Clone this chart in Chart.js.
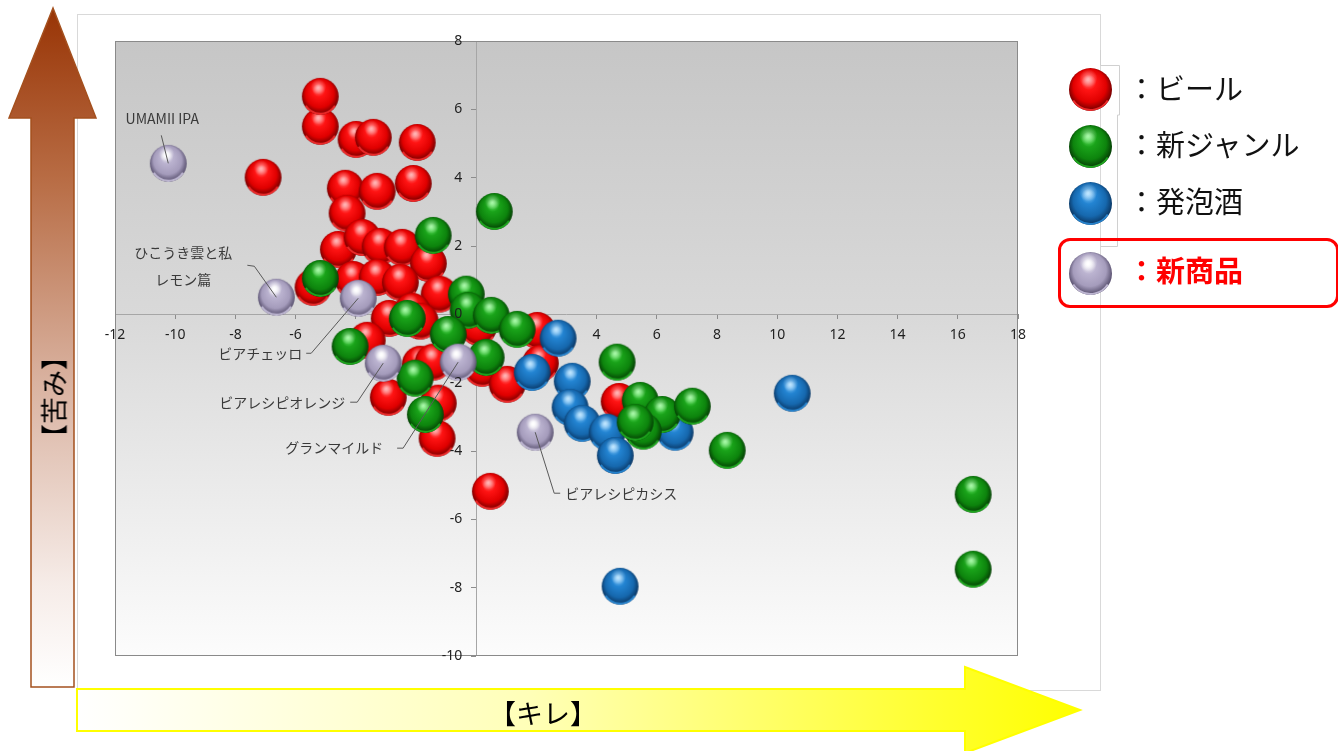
<!DOCTYPE html>
<html lang="ja">
<head>
<meta charset="utf-8">
<title>キレ × 苦み マップ</title>
<script src="https://cdn.jsdelivr.net/npm/chart.js@4.4.1/dist/chart.umd.min.js"></script>
<style>
  html, body { margin:0; padding:0; background:#fff; width:1338px; height:751px; overflow:hidden;
    font-family:"Noto Sans CJK JP", "Noto Sans", sans-serif; }
  #deco, #chart { position:absolute; left:0; top:0; }
  .lg { position:absolute; left:1127px; font-size:29px; line-height:1; color:#111; white-space:nowrap; }
  .lg.new { color:#ff0000; font-weight:bold; }
  .dot { position:absolute; }
  #newbox { position:absolute; left:1058px; top:238px; width:281px; height:70px; border:3px solid #ff0000;
    border-radius:12px; box-sizing:border-box; }
  .axlab { position:absolute; font-size:27px; line-height:1; color:#000; white-space:nowrap; }
</style>
</head>
<body>
<svg id="deco" width="1338" height="751" xmlns="http://www.w3.org/2000/svg">
  <defs>
    <linearGradient id="bitter" x1="0" y1="0" x2="0" y2="1">
      <stop offset="0" stop-color="#983405"/>
      <stop offset="0.25" stop-color="#b86c44"/>
      <stop offset="0.55" stop-color="#d9b2a0"/>
      <stop offset="0.85" stop-color="#f6ece8"/>
      <stop offset="1" stop-color="#ffffff"/>
    </linearGradient>
    <linearGradient id="sharp" x1="0" y1="0" x2="1" y2="0">
      <stop offset="0" stop-color="#ffffff"/>
      <stop offset="0.45" stop-color="#ffffb8"/>
      <stop offset="0.85" stop-color="#ffff30"/>
      <stop offset="1" stop-color="#ffff00"/>
    </linearGradient>
  </defs>
  <rect x="77.5" y="14.5" width="1023" height="676" fill="#fff" stroke="#d9d9d9" stroke-width="1"/>
  <polyline points="1100.5,50 1100.5,65.5 1119.5,65.5 1119.5,115 1117.5,115 1117.5,246.5 1100.5,246.5" fill="none" stroke="#d0d0d0" stroke-width="1"/>
  <rect x="1101" y="15" width="40" height="34" fill="#fff"/>
  <polygon points="31,687 31,118 9,118 53,8 96,118 74,118 74,687" fill="url(#bitter)" stroke="#a4501e" stroke-width="1.5"/>
  <polygon points="77,689 965,689 965,667 1080,710 965,753 965,731 77,731" fill="url(#sharp)" stroke="#ffff00" stroke-width="2"/>
</svg>
<canvas id="chart" width="1338" height="751"></canvas>
<div class="axlab" style="left:53px; top:397px; transform:translate(-50%,-50%) rotate(-90deg);">【苦み】</div>
<div class="axlab" style="left:543px; top:712px; transform:translate(-50%,-50%);">【キレ】</div>
<div id="newbox"></div>
<div class="lg" style="top:73px;">：ビール</div>
<div class="lg" style="top:129px;">：新ジャンル</div>
<div class="lg" style="top:186px;">：発泡酒</div>
<div class="lg new" style="top:255px;">：新商品</div>
<script>
// ---- data: x = キレ, y = 苦み ----
const seriesNames = ['ビール', '新ジャンル', '発泡酒', '新商品'];

const beerX = [-5.18, -5.18, -3.99, -3.42, -1.96, -7.08, -4.35, -3.29, -2.09, -4.29,
               -4.58, -3.79, -3.19, -2.46, -1.59, -4.09, -3.29, -2.52, -5.42, -1.23,
               -2.89, -2.13, -1.86, 0.07, 2.03, -3.62, -1.86, -1.43, 0.20, 2.13,
               1.03, -2.92, -1.26, -1.30, 4.75, 0.47];
const beerY = [5.50, 6.38, 5.12, 5.18, 5.03, 4.01, 3.69, 3.60, 3.83, 2.96,
               1.90, 2.25, 1.99, 1.96, 1.49, 1.02, 1.08, 0.94, 0.79, 0.59,
               -0.12, 0.09, -0.20, -0.38, -0.47, -0.76, -1.46, -1.40, -1.58, -1.43,
               -2.05, -2.43, -2.60, -3.63, -2.55, -5.18];

const genreX = [0.60, -1.43, -5.18, -0.33, -0.27, 0.50, -2.29, -0.93, 1.36, -4.19,
                0.33, -2.03, -1.69, 4.68, 5.45, 6.18, 7.18, 5.55, 5.28, 8.34,
                16.51, 16.51];
const genreY = [3.01, 2.31, 1.05, 0.59, 0.12, -0.03, -0.12, -0.59, -0.44, -0.94,
                -1.26, -1.87, -2.93, -1.40, -2.52, -2.93, -2.69, -3.42, -3.16, -3.98,
                -5.27, -7.46];

const happoX = [2.72, 1.86, 3.19, 3.12, 3.52, 4.35, 4.62, 6.61, 10.50, 4.78];
const happoY = [-0.70, -1.70, -1.96, -2.72, -3.19, -3.45, -4.13, -3.45, -2.31, -7.96];

const newNames = ['UMAMII IPA', 'ひこうき雲と私\nレモン篇', 'ビアチェッロ', 'ビアレシピオレンジ', 'グランマイルド', 'ビアレシピカシス'];
const newX = [-10.23, -6.64, -3.92, -3.09, -0.60, 1.96];
const newY = [4.42, 0.50, 0.47, -1.43, -1.40, -3.45];

const xTickValues = [-12, -10, -8, -6, -4, -2, 0, 2, 4, 6, 8, 10, 12, 14, 16, 18];
const yTickValues = [-10, -8, -6, -4, -2, 0, 2, 4, 6, 8];

// ---- glossy ball markers ----
const palettes = {
  red:      { light:'#ff8a8a', base:'#ff1414', mid:'#e00000', dark:'#600000', rim:'#ff3030', spec:'rgba(255,220,220,0.55)' },
  green:    { light:'#6ef06e', base:'#1aa31a', mid:'#0d840d', dark:'#033003', rim:'#22b422', spec:'rgba(220,255,220,0.55)' },
  blue:     { light:'#8fd0ff', base:'#2384d2', mid:'#1668ae', dark:'#082d55', rim:'#2b8edc', spec:'rgba(225,245,255,0.6)' },
  lavender: { light:'#ffffff', base:'#bbb3d0', mid:'#a59cbc', dark:'#4a4260', rim:'#cdc5e0', spec:'rgba(255,255,255,0.95)' }
};

function makeBall(pal, r) {
  const size = Math.ceil(r * 2) + 2;
  const c = document.createElement('canvas');
  c.width = c.height = size;
  const g = c.getContext('2d');
  const cx = size / 2, cy = size / 2;
  g.save();
  g.beginPath(); g.arc(cx, cy, r, 0, Math.PI * 2); g.clip();
  const body = g.createRadialGradient(cx - r * 0.12, cy - r * 0.45, r * 0.04, cx, cy - r * 0.05, r * 1.08);
  body.addColorStop(0, pal.light);
  body.addColorStop(0.3, pal.base);
  body.addColorStop(0.7, pal.mid);
  body.addColorStop(1, pal.dark);
  g.fillStyle = body;
  g.fillRect(0, 0, size, size);
  // bright lower rim
  g.beginPath();
  g.arc(cx, cy, r - 1, Math.PI * 0.18, Math.PI * 0.82);
  g.strokeStyle = pal.rim; g.lineWidth = 2.2; g.globalAlpha = 0.85; g.stroke();
  g.globalAlpha = 1;
  // specular spot
  const sp = g.createRadialGradient(cx - r * 0.1, cy - r * 0.52, 0, cx - r * 0.1, cy - r * 0.52, r * 0.42);
  sp.addColorStop(0, pal.spec);
  sp.addColorStop(1, 'rgba(255,255,255,0)');
  g.fillStyle = sp;
  g.fillRect(0, 0, size, size);
  g.restore();
  return c;
}

const R = 18.4;
const balls = {
  red: makeBall(palettes.red, R),
  green: makeBall(palettes.green, R),
  blue: makeBall(palettes.blue, R),
  lavender: makeBall(palettes.lavender, R)
};

// legend balls
[['red', 89], ['green', 146], ['blue', 203], ['lavender', 273]].forEach(([key, cy]) => {
  const b = makeBall(palettes[key], 21.5);
  b.className = 'dot';
  b.style.left = (1090 - b.width / 2) + 'px';
  b.style.top = (cy - b.height / 2) + 'px';
  document.body.appendChild(b);
});

const zip = (xs, ys) => xs.map((x, i) => ({ x, y: ys[i] }));

// ---- callout placement for the new products (pixel offsets from the ball centre) ----
const calloutLayout = [
  { text: [-6, -45], align: 'center', lineStep: 0, path: [[-7, -28], [0, 0]] },
  { text: [-93, -45], align: 'center', lineStep: 27, path: [[-29, -32], [-22, -31], [0, 0]] },
  { text: [-56, 55], align: 'right', lineStep: 0, path: [[-52, 55], [-47, 55], [0, 0]] },
  { text: [-38, 39], align: 'right', lineStep: 0, path: [[-33, 39], [-26, 39], [0, 0]] },
  { text: [-75, 86], align: 'right', lineStep: 0, path: [[-61, 86], [-55, 86], [0, 0]] },
  { text: [30, 61], align: 'left', lineStep: 0, path: [[0, 0], [19, 61], [25, 61]] }
];

const tickFont = { family: '"Noto Sans", "DejaVu Sans", sans-serif', size: 14 };
const tickColor = '#1e1e1e';

const plotFrame = {
  id: 'plotFrame',
  beforeDraw(chart) {
    const { ctx, chartArea: a } = chart;
    const g = ctx.createLinearGradient(0, a.top, 0, a.bottom);
    g.addColorStop(0, '#c6c6c6');
    g.addColorStop(0.45, '#d9d9d9');
    g.addColorStop(1, '#fcfcfc');
    ctx.save();
    ctx.fillStyle = g;
    ctx.fillRect(a.left, a.top, a.right - a.left, a.bottom - a.top);
    ctx.restore();
  },
  beforeDatasetsDraw(chart) {
    const { ctx, chartArea: a, scales } = chart;
    const x0 = Math.round(scales.x.getPixelForValue(0)) + 0.5;
    const y0 = Math.round(scales.y.getPixelForValue(0)) + 0.5;
    ctx.save();
    ctx.strokeStyle = '#a6a6a6';
    ctx.lineWidth = 1;
    ctx.beginPath();
    ctx.moveTo(a.left, y0); ctx.lineTo(a.right, y0);
    ctx.moveTo(x0, a.top); ctx.lineTo(x0, a.bottom);
    ctx.stroke();
    ctx.restore();
  },
  afterDatasetsDraw(chart) {
    const { ctx, scales } = chart;
    ctx.save();
    ctx.strokeStyle = '#595959';
    ctx.lineWidth = 1;
    ctx.fillStyle = '#3a3a3a';
    ctx.font = '14px "Noto Sans CJK JP", "Noto Sans", sans-serif';
    ctx.textBaseline = 'middle';
    newNames.forEach((name, i) => {
      const px = scales.x.getPixelForValue(newX[i]);
      const py = scales.y.getPixelForValue(newY[i]);
      const lay = calloutLayout[i];
      ctx.beginPath();
      lay.path.forEach(([dx, dy], k) => {
        if (k === 0) ctx.moveTo(px + dx, py + dy); else ctx.lineTo(px + dx, py + dy);
      });
      ctx.stroke();
      ctx.textAlign = lay.align;
      name.split('\n').forEach((line, k) => {
        ctx.fillText(line, px + lay.text[0], py + lay.text[1] + k * lay.lineStep);
      });
    });
    ctx.restore();
  },
  afterDraw(chart) {
    const { ctx, chartArea: a, scales } = chart;
    ctx.save();
    ctx.strokeStyle = '#8a8a8a';
    ctx.lineWidth = 1;
    ctx.strokeRect(a.left + 0.5, a.top + 0.5, a.right - a.left - 1, a.bottom - a.top - 1);
    // vertical-axis tick labels, set off to the left of the x = 0 axis line
    const x0 = scales.x.getPixelForValue(0);
    ctx.fillStyle = tickColor;
    ctx.font = tickFont.size + 'px ' + tickFont.family;
    ctx.textAlign = 'right';
    ctx.textBaseline = 'middle';
    scales.y.ticks.forEach(t => {
      ctx.fillText(String(t.value), x0 - 14, scales.y.getPixelForValue(t.value));
    });
    ctx.restore();
  }
};

new Chart(document.getElementById('chart'), {
  type: 'scatter',
  data: {
    datasets: [
      { label: seriesNames[0], data: zip(beerX, beerY), pointStyle: balls.red, pointRadius: R, order: 3 },
      { label: seriesNames[1], data: zip(genreX, genreY), pointStyle: balls.green, pointRadius: R, order: 1 },
      { label: seriesNames[2], data: zip(happoX, happoY), pointStyle: balls.blue, pointRadius: R, order: 2 },
      { label: seriesNames[3], data: zip(newX, newY), pointStyle: balls.lavender, pointRadius: R, order: 0 }
    ]
  },
  options: {
    responsive: false,
    animation: false,
    events: [],
    layout: { padding: { left: 115, top: 41, right: 320, bottom: 95 } },
    plugins: { legend: { display: false }, tooltip: { enabled: false } },
    scales: {
      x: {
        type: 'linear', min: -12, max: 18, position: { y: 0 }, z: 1,
        border: { display: false },
        grid: { drawOnChartArea: false, drawTicks: true, tickLength: 5, color: '#8c8c8c' },
        ticks: { autoSkip: false, maxRotation: 0, padding: 7, color: tickColor, font: tickFont },
        afterBuildTicks: s => { s.ticks = xTickValues.map(v => ({ value: v })); }
      },
      y: {
        type: 'linear', min: -10, max: 8, position: { x: 0 }, z: 1,
        border: { display: false },
        grid: { drawOnChartArea: false, drawTicks: true, tickLength: 5, color: '#8c8c8c' },
        ticks: { display: false },
        afterBuildTicks: s => { s.ticks = yTickValues.map(v => ({ value: v })); }
      }
    }
  },
  plugins: [plotFrame]
});
</script>
</body>
</html>
